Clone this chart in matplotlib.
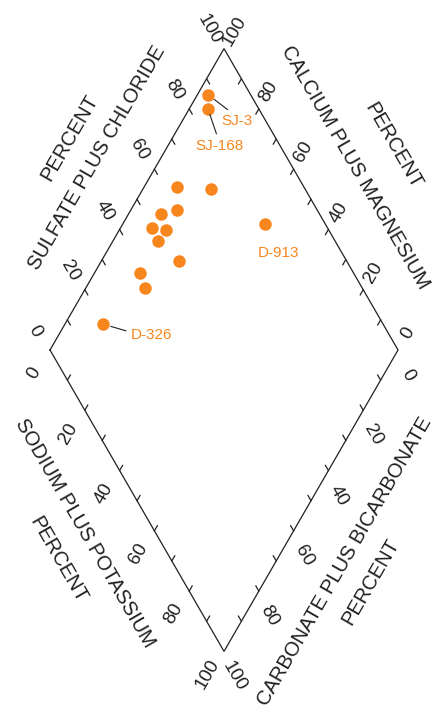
import numpy as np
import matplotlib
matplotlib.use('Agg')
import matplotlib.pyplot as plt

plt.rcParams['font.family'] = ['Liberation Sans', 'DejaVu Sans']

# percent of milliequivalents
sulfate_chloride = [87.8, 85.4, 63.5, 73.0, 54.4, 59.8, 82.7, 49.4, 53.1, 49.1, 51.9, 38.5, 37.6, 19.5]
calcium_magnesium = [96.9, 94.6, 90.6, 80.4, 90.7, 86.6, 59.1, 91.0, 86.6, 87.2, 77.6, 87.0, 83.1, 89.1]
sample_names = ['SJ-3', 'SJ-168', '', '', '', '', 'D-913', '', '', '', '', '', '', 'D-326']
tick_values = [0, 20, 40, 60, 80, 100]

orange = '#F7861F'
ink = '#231F20'
h = np.sqrt(3) / 2


def to_xy(anion, cation):
    a = np.asarray(anion, dtype=float)
    c = np.asarray(cation, dtype=float)
    return 0.5 * (a + 100 - c), h * (a - 100 + c)


fig = plt.figure(figsize=(4.38, 7.21), dpi=100)
ax = fig.add_axes([0, 0, 1, 1])
ax.set_xlim(-14.37, 111.49)
ax.set_ylim(-106.61, 100.57)
ax.axis('off')

# outline of the diamond
L, T, R, B = (0, 0), (50, 100 * h), (100, 0), (50, -100 * h)
ox = [L[0], T[0], R[0], B[0], L[0]]
oy = [L[1], T[1], R[1], B[1], L[1]]
ax.plot(ox, oy, color=ink, lw=0.9, solid_joinstyle='miter')

# edges: start, end, inward tick direction, label offset, label rotation
edges = [
    (L, T, (0.5, -h), (-4.3, 5.5), -60),
    (R, T, (-0.5, -h), (2.9, 4.9), 60),
    (L, B, (0.5, h), (-4.6, -6.6), 60),
    (R, B, (-0.5, h), (2.9, -7.2), -60),
]
tick_len = 1.7
for start, end, tdir, off, rot in edges:
    sx, sy = start
    dx, dy = end[0] - sx, end[1] - sy
    for v in range(10, 100, 10):
        px, py = sx + dx * v / 100, sy + dy * v / 100
        ax.plot([px, px + tdir[0] * tick_len], [py, py + tdir[1] * tick_len],
                color=ink, lw=0.9)
    for v in tick_values:
        px, py = sx + dx * v / 100, sy + dy * v / 100
        ax.text(px + off[0], py + off[1], str(v), rotation=rot,
                ha='center', va='center', fontsize=13.5, color=ink)

# axis titles
title_fs = 14.5
ax.text(5.5, 60.9, 'PERCENT', rotation=60, ha='center', va='center', fontsize=title_fs, color=ink)
ax.text(13.4, 55.2, 'SULFATE PLUS CHLORIDE', rotation=60, ha='center', va='center', fontsize=title_fs, color=ink)
ax.text(87.6, 52.6, 'CALCIUM PLUS MAGNESIUM', rotation=-60, ha='center', va='center', fontsize=title_fs, color=ink)
ax.text(98.6, 58.6, 'PERCENT', rotation=-60, ha='center', va='center', fontsize=title_fs, color=ink)
ax.text(10.1, -52.6, 'SODIUM PLUS POTASSIUM', rotation=-60, ha='center', va='center', fontsize=title_fs, color=ink)
ax.text(2.3, -60.3, 'PERCENT', rotation=-60, ha='center', va='center', fontsize=title_fs, color=ink)
ax.text(84.8, -60.9, 'CARBONATE PLUS BICARBONATE', rotation=60, ha='center', va='center', fontsize=title_fs, color=ink)
ax.text(92.0, -66.7, 'PERCENT', rotation=60, ha='center', va='center', fontsize=title_fs, color=ink)

# samples
x, y = to_xy(sulfate_chloride, calcium_magnesium)
ax.plot(x, y, 'o', ms=9, color=orange, mec='none', zorder=3)

# labels: offset in points, leader attach point on text, gap at dot
label_style = {
    'SJ-3': ((20.7, -18.7), (0.37, 1.0), 5.5),
    'SJ-168': ((8.6, -26.4), (0.46, 1.0), 4.2),
    'D-913': ((10.0, -20.6), None, 0),
    'D-326': ((35.0, -7.9), (0.0, 0.7), 5.9),
}
for name, xi, yi in zip(sample_names, x, y):
    if not name:
        continue
    off, rel, gap = label_style[name]
    arrow = None
    if rel is not None:
        arrow = dict(arrowstyle='-', color=ink, lw=0.8, relpos=rel,
                     shrinkA=1.5, shrinkB=gap)
    ax.annotate(name, xy=(xi, yi), xytext=off, textcoords='offset points',
                ha='center', va='center', fontsize=11, color=orange,
                arrowprops=arrow)

fig.savefig('out.png', dpi=100)
